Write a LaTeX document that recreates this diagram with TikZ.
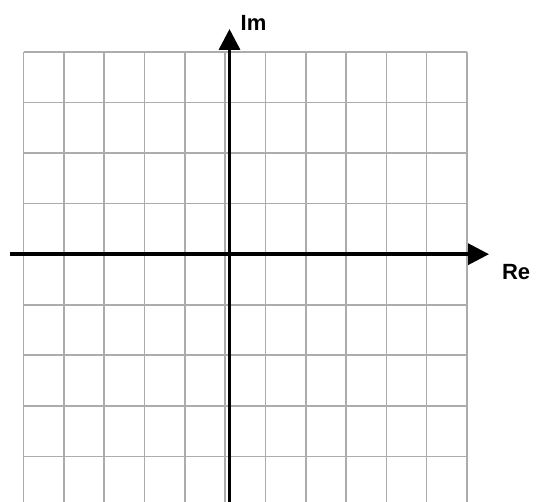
\documentclass[tikz,border=0pt]{standalone}
\usepackage{fontspec}
\setmainfont{Liberation Sans}
\usetikzlibrary{arrows.meta}
\definecolor{gridgray}{RGB}{172,172,172}
\tikzset{
  gridline/.style={draw=gridgray, line width=1.6pt},
  axisline/.style={draw=black, line width=3.4pt, -{Triangle[length=21pt,width=21pt]}},
  axislabel/.style={inner sep=0pt, anchor=base west, font=\fontsize{22}{22}\selectfont\bfseries},
}
\begin{document}
\begin{tikzpicture}[x=1pt,y=1pt]
  \useasboundingbox (0,0) rectangle (536,502);
  % grid (y measured from top: py -> 502-py)
  \foreach \i in {0,...,11} {
    \draw[gridline] ({23.6+40.3*\i},{502-52}) -- ({23.6+40.3*\i},0);
  }
  \foreach \j in {0,...,8} {
    \draw[gridline] (23.6,{502-52-50.55*\j}) -- (467,{502-52-50.55*\j});
  }
  % axes
  \coordinate (xs) at (10,{502-254.2});
  \coordinate (xe) at (489,{502-254.2});
  \coordinate (ys) at (229.5,0);
  \coordinate (ye) at (229.5,{502-29});
  \draw[axisline] (xs) -- (xe);
  \draw[axisline] (ys) -- (ye);
  \node[axislabel] (im) at (240.5,{502-31}) {Im};
  \node[axislabel] (re) at (501.8,{502-280}) {Re};
\end{tikzpicture}
\end{document}
